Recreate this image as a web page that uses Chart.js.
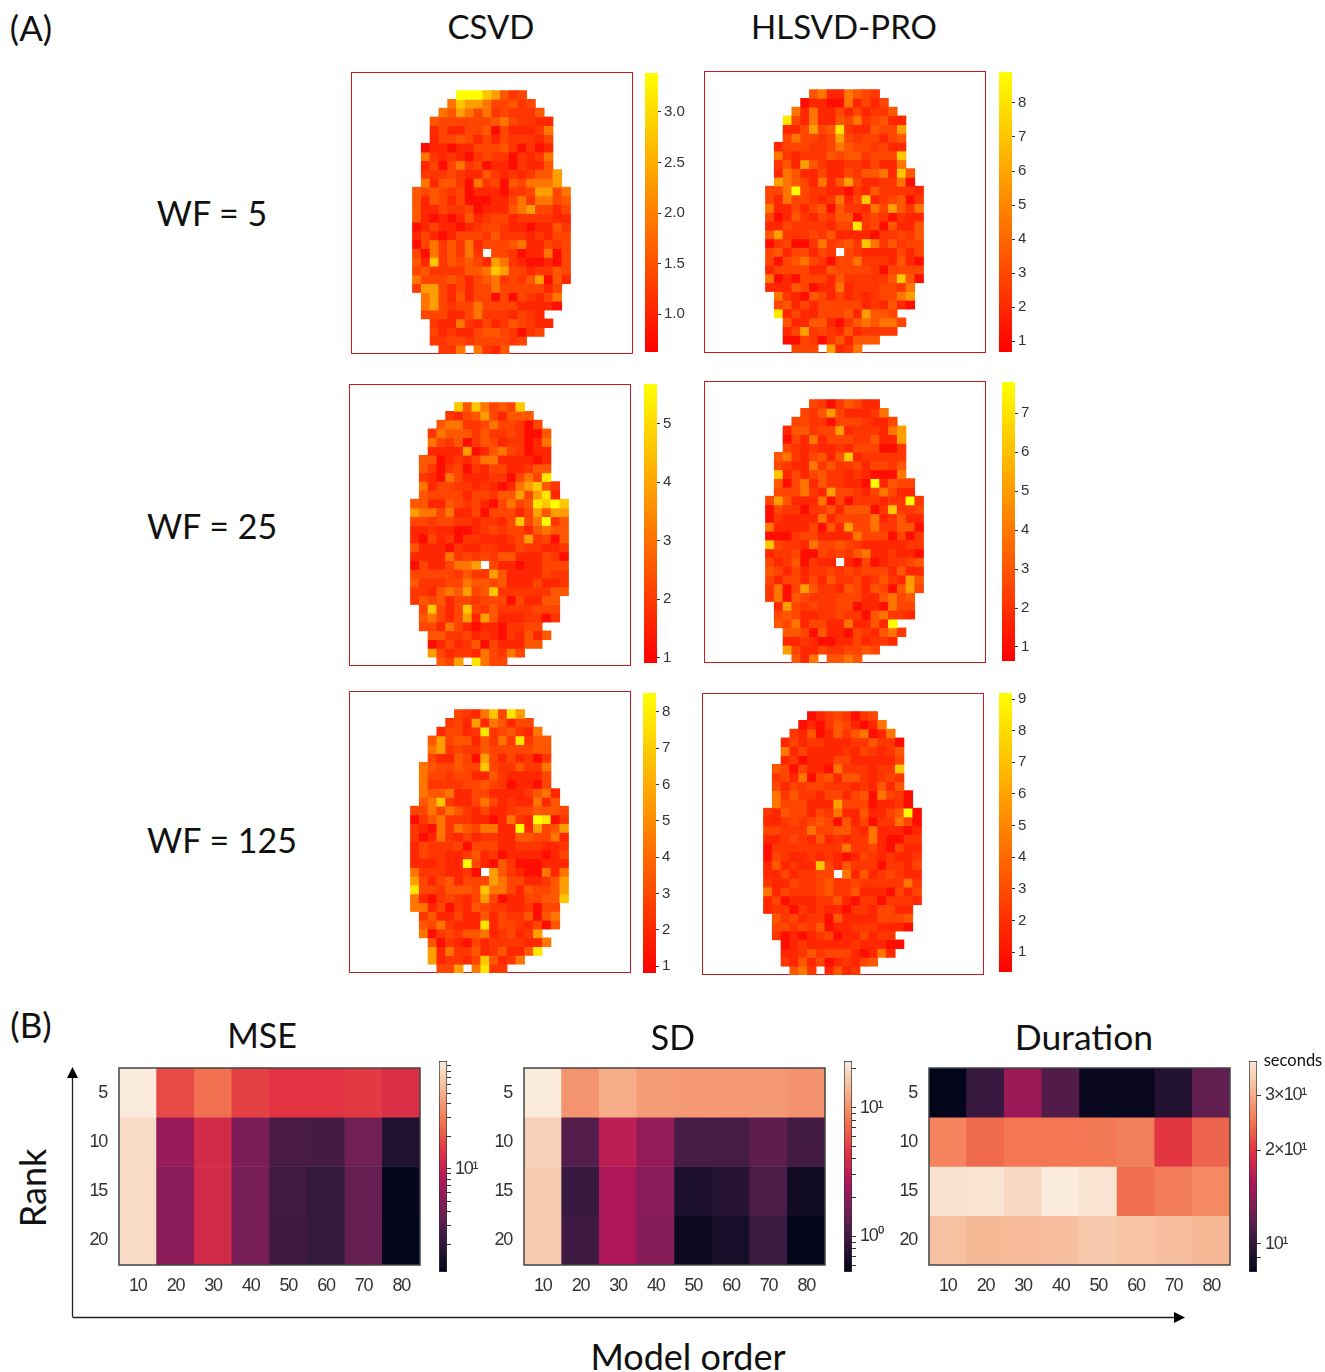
<!DOCTYPE html>
<html><head><meta charset="utf-8">
<style>
html,body{margin:0;padding:0;background:#fff;}
body{position:relative;width:1325px;height:1372px;overflow:hidden;}
canvas{position:absolute;display:block;}
canvas.soft{filter:blur(0.6px);}
.t{position:absolute;font-family:Lato,"Open Sans",sans-serif;color:#111;white-space:nowrap;transform:translate(-50%,-50%);}
.box{position:absolute;border:1px solid #c9181e;box-sizing:content-box;}
svg{position:absolute;left:0;top:0;}
</style>
<script src="https://cdn.jsdelivr.net/npm/chart.js@4"></script>
</head><body>
<svg width="1325" height="1372">
<line x1="72.5" y1="1317.5" x2="72.5" y2="1076" stroke="#222" stroke-width="1.3"/>
<polygon points="72.5,1067 67,1078 78,1078" fill="#000"/>
<line x1="73" y1="1317.5" x2="1175" y2="1317.5" stroke="#222" stroke-width="1.3"/>
<polygon points="1185,1317.5 1174,1312 1174,1323" fill="#000"/>
</svg>
<script>
// Levels 0 (red) .. 9 (yellow) of each brain map, rows 2..31 of a 32x32 grid; "." is an empty voxel.
const rowStart=[12,11,10,9,9,9,8,8,8,8,8,7,7,7,7,7,7,7,7,7,7,7,7,8,8,8,9,9,9,10,12];
const levelShare=[0.05,0.15,0.21,0.27,0.34,0.46,0.62,0.78,0.9,1];
const csvdWf5=["99976423","5766533423","546535232224","43333334532211","13113340311125","13343131322213","011011333420201","521210232202125","130352301102114","2223211421212446","5144205230435556","434323011102236635","414313000113525534","411322301114563313","410101412331222211","013110123321101142","131013332422212133","035242513334511323","30524252.332011503","417243431652100103","342222445763312243","533343134523246041","26631313353333313","5631413303032135","5632335333311110","33311352221321","21152131243211","3121134432023","22332333323","225.5214"];
const hlsvdWf5=["45115432","0110051313","515113131224","83151143523411","11363482114336","35332363233134","133322354332311","521222434423337","241642112213115","1541131132445174","6543151463112250","335932211021422221","315332125137123402","511313404221536425","301421324402320211","113222213382304114","462223241111022324","023002523427524233","34133132.321111313","303453203352221410","133331143333203333","501033314222224740","11143011512223325","5210431312123356","3413133333121410","81311333416443","41144102454553","1362321412222","00320241444","333.6125"];
const csvdWf25=["74753437","2134631444","455223533203","25444242232004","53240243122015","11116014532011","440121355111101","420230213311244","210531112203538","5133221210156742","4333313324463681","441143231035348797","655351130333136466","332332212213735924","112110012323314544","103120221112362304","411102112211322112","111152323244111320","03113556.311011333","333332422641111322","422233544341113112","221454634722222244","24341332333031144","3731373242222333","4531361641112202","33153101102233","44223121021414","0131240311144","63122153253","436.8533"];
const hlsvdWf25=["32024311","3246311125","332203332113","14423361222156","03151333224116","32121121333002","452134147122222","321152422313324","713134221210005","4035142211091433","3335216332135311","364111503022212292","032202241444027223","021111513333512411","511113041633522440","000233111153330302","732215334321111122","122300323245112110","31240211.103012234","431312232323331411","313313142231242164","250364221431430463","25043222333114534","1632322330110533","3431122322045221","43513311511419","44304110321452","1121001131221","63113223343","415.4454"];
const csvdWf125=["32157386","2316154133","133128234215","46344142528244","56232243333344","31143063131202","543343373224225","533233114211113","522223343201103","5445113311112451","4572113531211514","335354213112334443","024522211015219802","210525435511916346","201521312211443351","132223033311222112","132211241201111013","111211931042000111","52221120.642100515","631341333653311246","833244437553143346","510232136301133447","55130214322112033","2411311413224045","4352111813321304","50232445123126","40210312222115","6152241241148","61221374125","336.5822"];
const hlsvdWf125=["01232023","0102431015","214014245015","13122111224220","51311112132124","12011133111113","430311052221227","231503414421232","313233222121414","5242213313405320","5333111633301120","214331325114113490","112323430413022530","332225334421511101","112321412122510022","022222222522310311","032112121013212112","141211731422202213","11312233.514123211","211322342232222252","513222342241110313","130111224102202221","12202121102213311","4231220411113334","3323240112221110","20101230113122","01211111211100","1124233310151","21413012134","452.1412"];

// Panel A colour bar ranges and ticks
const cbRange=[[0.624,3.386],[0.68,8.91],[0.91,5.68],[0.64,7.8],[0.81,8.52],[0.37,9.19]];
const cbTicks1=[1.0,1.5,2.0,2.5,3.0];
const cbTicks2=[1,2,3,4,5,6,7,8];
const cbTicks3=[1,2,3,4,5];
const cbTicks4=[1,2,3,4,5,6,7];
const cbTicks5=[1,2,3,4,5,6,7,8];
const cbTicks6=[1,2,3,4,5,6,7,8,9];

// Panel B
const modelOrders=["10","20","30","40","50","60","70","80"];
const ranks=["5","10","15","20"];
const mse5=[100,18,26,16.5,14.4,14.4,15.4,13.2];
const mse10=[83,6.1,12,4.5,2.6,2.5,4,1.6];
const mse15=[82,5.2,12,4.3,2.37,2.07,3.55,1.15];
const mse20=[82,5.2,12,4.3,2.3,2.07,3.55,1.1];
const sd5=[23,10.2,12.6,10.8,10.6,10.6,10.6,10];
const sd10=[17.7,1.21,3.1,2.14,1.08,1.06,1.31,1.03];
const sd15=[17,0.93,2.68,1.91,0.69,0.77,1.13,0.62];
const sd20=[17,0.99,2.68,1.88,0.58,0.67,0.98,0.53];
const dur5=[8.1,10.2,14.9,11.3,8.35,8.3,9.3,12];
const dur10=[25.9,23.8,24.8,24.8,25,25.6,19.9,23.4];
const dur15=[37.2,37.8,36,38.7,37.5,24.2,25.4,26.5];
const dur20=[32.6,31.6,31.9,32.4,33.6,32.9,32.4,31.4];
const mseRange=[1.1,100], sdRange=[0.53,23], durRange=[8.1,38.7];
const mseTicks=[2,3,4,5,6,7,8,9,10,20,30,40,50,60,70,80,90];
const sdTicks=[0.6,0.7,0.8,0.9,1,2,3,4,5,6,7,8,9,10,20];
const durTicks=[9,10,20,30];
const mseLabels={10:"10¹"}, sdLabels={1:"10⁰",10:"10¹"}, durLabels={10:"10¹",20:"2\u200a×\u200a10¹",30:"3\u200a×\u200a10¹"};

// Seaborn "rocket" colour map
const rocket=["#03051a","#35193e","#701f57","#ad1759","#e13342","#f37651","#f6b48f","#faebdd"];

Chart.defaults.animation=false;
Chart.defaults.plugins.legend.display=false;
Chart.defaults.plugins.tooltip.enabled=false;
const SANS='"Liberation Sans",Arial,sans-serif';

function hex(c){return [1,3,5].map(i=>parseInt(c.substr(i,2),16));}
function rocketAt(f){
  f=Math.max(0,Math.min(1,f));
  const p=f*(rocket.length-1), i=Math.min(rocket.length-2,Math.floor(p)), t=p-i;
  const a=hex(rocket[i]), b=hex(rocket[i+1]);
  return 'rgb('+a.map((v,k)=>Math.round(v+(b[k]-v)*t)).join(',')+')';
}
function autumn(level){return 'rgb(255,'+Math.round(levelShare[level]*255)+',0)';}
function addCanvas(l,t,w,h,cls){
  const c=document.createElement('canvas');
  c.width=w;c.height=h;c.style.left=l+'px';c.style.top=t+'px';c.style.width=w+'px';c.style.height=h+'px';
  if(cls) c.className=cls;
  document.body.appendChild(c);
  return c;
}
function label(text,x,y,size,extra){
  const d=document.createElement('div');
  d.className='t';d.textContent=text;d.style.left=x+'px';d.style.top=y+'px';d.style.fontSize=size+'px';
  if(extra) d.style.cssText+=extra;
  document.body.appendChild(d);
}
const tight={id:'tight',beforeDraw(ch){ch.ctx.letterSpacing='-1.2px';}};

function brain(rows,x,y,frameTop){
  const N=32, S=281;
  const f=document.createElement('div');
  f.className='box';f.style.cssText+='left:'+x+'px;top:'+frameTop+'px;width:'+(S-1)+'px;height:'+(S-1)+'px;';
  document.body.appendChild(f);
  const labels=Array.from({length:N},(_,i)=>String(i));
  const datasets=[];
  for(let r=0;r<N;r++){
    const colors=new Array(N).fill('rgba(0,0,0,0)');
    const row=rows[r-2];
    if(row){
      for(let k=0;k<row.length;k++){
        if(row[k]!=='.') colors[rowStart[r-2]+k]=autumn(+row[k]);
      }
    }
    datasets.push({data:new Array(N).fill(1),backgroundColor:colors,borderWidth:0,barPercentage:1,categoryPercentage:1,stack:'s'});
  }
  new Chart(addCanvas(x,y,S,S,'soft'),{type:'bar',data:{labels,datasets},options:{
    responsive:false,layout:{padding:0},
    scales:{x:{display:false,stacked:true},y:{display:false,stacked:true,reverse:true,min:0,max:N}}
  }});
}

function colorBar(x,y,w,h,range,opts){
  const pad=10, W=opts.canvasW;
  new Chart(addCanvas(x,y-pad,W,h+2*pad),{type:'bar',plugins:opts.plugins||[],data:{labels:['c'],datasets:[{
    data:[[range[0],range[1]]],barPercentage:1,categoryPercentage:1,borderSkipped:false,
    borderWidth:opts.border?1:0,borderColor:'#333',
    backgroundColor(ctx){
      const a=ctx.chart.chartArea; if(!a) return '#f00';
      const g=ctx.chart.ctx.createLinearGradient(0,a.bottom,0,a.top);
      opts.stops.forEach((c,i)=>g.addColorStop(i/(opts.stops.length-1),c));
      return g;
    }
  }]},options:{
    responsive:false,layout:{padding:{top:pad,bottom:pad}},
    scales:{
      x:{display:false},
      y:{type:opts.log?'logarithmic':'linear',position:'right',min:range[0],max:range[1],
        afterBuildTicks(s){s.ticks=opts.ticks.map(v=>({value:v}));},
        afterFit(s){s.width=W-w;s.paddingTop=0;s.paddingBottom=0;},
        border:{display:false},
        grid:{drawOnChartArea:false,drawTicks:true,tickLength:opts.tickLen,tickColor:'#333',lineWidth:1},
        ticks:{autoSkip:false,padding:opts.tickPad,color:'#333',font:opts.font,maxRotation:0,callback:opts.fmt}
      }
    }
  }});
}

const frame={id:'frame',afterDatasetsDraw(ch){const a=ch.chartArea,c=ch.ctx;c.save();c.strokeStyle='#444';c.lineWidth=1.5;c.strokeRect(a.left,a.top,a.width,a.height);c.restore();}};
function heat(rowsData,range,x,y,w,h){
  const L=42,B=40;
  const nrm=v=>(Math.log10(v)-Math.log10(range[0]))/(Math.log10(range[1])-Math.log10(range[0]));
  const datasets=rowsData.map(row=>({data:row.map(()=>1),backgroundColor:row.map(v=>rocketAt(nrm(v))),borderWidth:0,barPercentage:1,categoryPercentage:1,stack:'s'}));
  const font={family:SANS,size:18};
  new Chart(addCanvas(x-L,y-4,L+w+4,h+4+B),{type:'bar',plugins:[frame,tight],data:{labels:modelOrders,datasets},options:{
    responsive:false,layout:{padding:{top:4,right:4}},
    scales:{
      x:{stacked:true,grid:{display:false},border:{display:false},afterFit(s){s.height=B;s.paddingLeft=0;s.paddingRight=0;},ticks:{padding:2,color:'#333',font,maxRotation:0,autoSkip:false}},
      y:{stacked:true,reverse:true,min:0,max:ranks.length,grid:{display:false},border:{display:false},
        afterBuildTicks(s){s.ticks=ranks.map((_,i)=>({value:i+0.5}));},
        afterFit(s){s.width=L;s.paddingTop=0;s.paddingBottom=0;},
        ticks:{padding:4,color:'#333',font,autoSkip:false,callback:v=>ranks[Math.floor(v)]}}
    }
  }});
}

// Panel A
brain(csvdWf5,351,73,72);   brain(hlsvdWf5,704,72,71);
brain(csvdWf25,349,385,384); brain(hlsvdWf25,704,382,381);
brain(csvdWf125,349,692,691);brain(hlsvdWf125,702,694,693);
const autumnStops=['#ff0000','#ffff00'];
const aFont={family:SANS,size:15};
const aBar=(i,ticks,x,y,h,fmt)=>colorBar(x,y,13,h,cbRange[i],{canvasW:62,stops:autumnStops,ticks,log:false,tickLen:3,tickPad:3,font:aFont,fmt:fmt||(v=>String(v))});
aBar(0,cbTicks1,645,73,279,v=>v.toFixed(1));
aBar(1,cbTicks2,999,72,280);
aBar(2,cbTicks3,644,384,279);
aBar(3,cbTicks4,1002,382,279);
aBar(4,cbTicks5,643,693,280);
aBar(5,cbTicks6,999,693,279);

// Panel B
heat([mse5,mse10,mse15,mse20],mseRange,119,1068,301,197);
heat([sd5,sd10,sd15,sd20],sdRange,524,1068,301,197);
heat([dur5,dur10,dur15,dur20],durRange,929,1068,301,197);
const bFont={family:SANS,size:18};
const bBar=(rng,ticks,labels,x,W)=>colorBar(x,1061,8,211,rng,{canvasW:W,stops:rocket,ticks,log:true,border:true,tickLen:4,tickPad:4,font:bFont,plugins:[tight],fmt:v=>labels[v]||''});
bBar(mseRange,mseTicks,mseLabels,438.5,50);
bBar(sdRange,sdTicks,sdLabels,843.5,50);
bBar(durRange,durTicks,durLabels,1248.5,74);

// Text
label('(A)',31,27,35);
label('(B)',31,1024,35);
label('CSVD',491,26,33);
label('HLSVD-PRO',844,26,33);
label('WF = 5',212,212,34);
label('WF = 25',212,525,34);
label('WF = 125',222,839,34);
label('MSE',262,1034,34);
label('SD',673,1036,34);
label('Duration',1084,1036,35.5);
label('Model order',688,1356,36);
label('Rank',32,1188,36,'transform:translate(-50%,-50%) rotate(-90deg);');
label('seconds',1293,1060,16.5);
</script>
</body></html>
